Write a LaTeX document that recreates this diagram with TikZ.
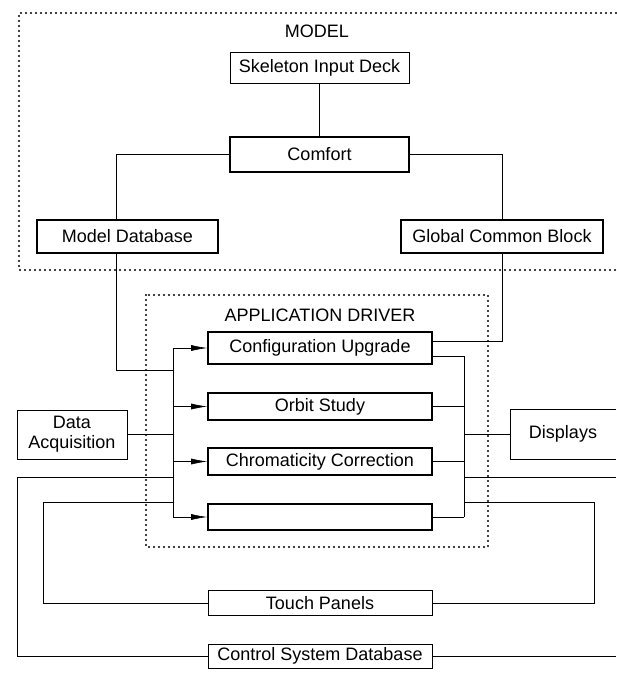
\documentclass[tikz,border=0pt]{standalone}
\usepackage{fontspec}
\setmainfont{Liberation Sans}
\usetikzlibrary{arrows.meta}

\tikzset{
    unit/.style={draw, line width=0.6pt, inner sep=0pt, align=center,
        font=\fontsize{18}{20}\selectfont},
    heavy/.style={unit, line width=1.6pt},
    wire/.style={line width=0.6pt},
    feed/.style={wire, -{Latex[length=16pt,width=6pt]}},
    dotline/.style={line width=2.4pt, line cap=round, dash pattern=on 0pt off 5pt},
    title/.style={font=\fontsize{18}{20}\selectfont}
}

\begin{document}
\begin{tikzpicture}[x=1pt, y=-1pt]
            \useasboundingbox (0,0) rectangle (616,674);

            % Model
            \draw [dotline] (616,13) -- (19,13) -- (19,270) -- (616,270);
            \node [title] (modeltitle) at (317,31) {MODEL};

            \node [unit, minimum width=179pt, minimum height=31pt] (deck) at (319.5,67.5) {Skeleton Input Deck};
            \node [heavy, minimum width=179pt, minimum height=35pt] (comfort) at (319.5,154.5) {Comfort};
            \node [heavy, minimum width=181pt, minimum height=33pt] (mdb) at (127.5,236.5) {Model Database};
            \node [heavy, minimum width=202pt, minimum height=33pt] (gcb) at (502,236.5) {Global Common Block};

            \draw [wire] (deck.south) -- (comfort.north);
            \draw [wire] (comfort.west) -| ([xshift=-11.5pt]mdb.north);
            \draw [wire] (comfort.east) -| (gcb.north);

            % Application driver
            \draw [dotline] (146,295) rectangle (488,547);
            \node [title] (apptitle) at (320,315) {APPLICATION DRIVER};

            \node [heavy, minimum width=224pt, minimum height=32pt] (cfg) at (320,348) {Configuration Upgrade};
            \node [heavy, minimum width=224pt, minimum height=27pt] (orbit) at (320,406.5) {Orbit Study};
            \node [heavy, minimum width=224pt, minimum height=27pt] (chrom) at (320,461.5) {Chromaticity Correction};
            \node [heavy, minimum width=224pt, minimum height=26pt] (blank) at (320,517) {};

            \coordinate (lbus) at (173,0);
            \coordinate (rbus) at (464,0);
            \coordinate (mdbin) at (173,370);

            \foreach \app in {cfg, orbit, chrom, blank}{
                \draw [feed] (\app.west -| lbus) -- (\app.west);
            }
            \draw [wire] (cfg.west -| lbus) -- (blank.west -| lbus);
            \draw [wire] ([xshift=-11.5pt]mdb.south) |- (mdbin);

            \foreach \app in {orbit, chrom, blank}{
                \draw [wire] (\app.east) -- (\app.east -| rbus);
            }
            \draw [wire] ([yshift=-8pt]cfg.east) -| (blank.east -| rbus);
            \draw [wire] (gcb.south) |- ([yshift=7pt]cfg.east);

            % Outside units
            \node [unit, line width=1pt, minimum width=110pt, minimum height=49pt] (daq) at (72,434.5) {Data\\Acquisition};
            \draw [wire] (daq.east) -- (daq.east -| lbus);

            \node [title, minimum width=106pt, minimum height=50pt, inner sep=0pt] (disp) at (563,434) {Displays};
            \draw [wire] (disp.north east) -- (disp.north west) -- (disp.south west) -- (disp.south east);
            \draw [wire] (disp.west -| rbus) -- (disp.west);

            \node [unit, minimum width=224pt, minimum height=25pt] (touch) at (320,603) {Touch Panels};
            \node [unit, minimum width=224pt, minimum height=24pt] (csd) at (320,656) {Control System Database};

            \coordinate (ltap) at (173,477);
            \coordinate (lcorner) at (17,656);
            \coordinate (ltap2) at (173,502);
            \coordinate (lcorner2) at (43,603);
            \coordinate (rtap) at (464,477);
            \coordinate (redge) at (616,477);
            \coordinate (rtap2) at (464,502);
            \coordinate (rcorner2) at (594,603);
            \coordinate (cedge) at (616,656);

            \draw [wire] (ltap) -| (lcorner) -- (csd.west);
            \draw [wire] (ltap2) -| (lcorner2) -- (touch.west);
            \draw [wire] (rtap) -- (redge);
            \draw [wire] (rtap2) -| (rcorner2) -- (touch.east);
            \draw [wire] (csd.east) -- (cedge);
        \end{tikzpicture}
\end{document}
